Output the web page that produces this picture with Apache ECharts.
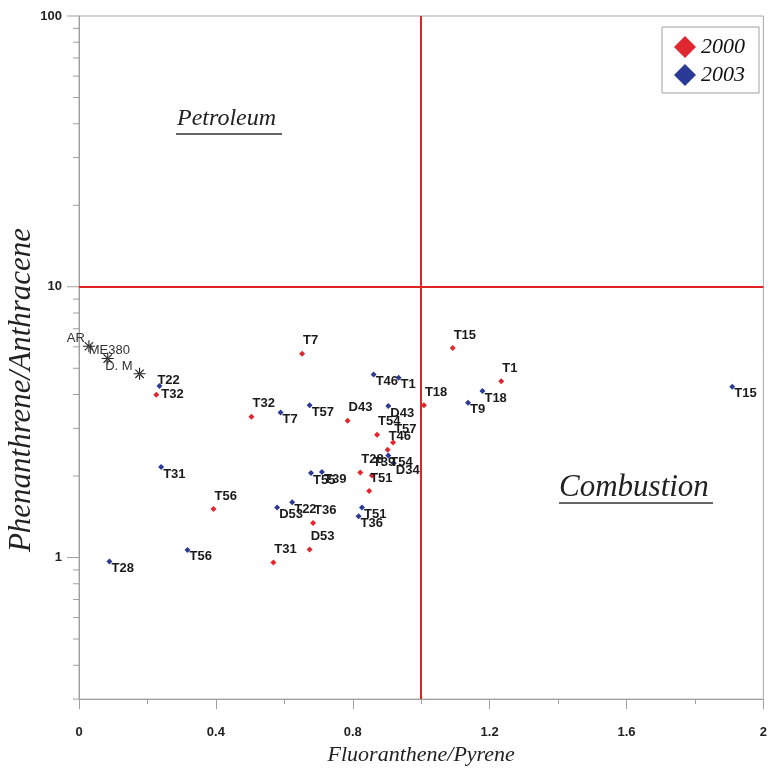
<!DOCTYPE html>
<html>
<head>
<meta charset="utf-8">
<script src="https://cdn.jsdelivr.net/npm/echarts@6/dist/echarts.min.js"></script>
<style>html,body{margin:0;padding:0;background:#fff;}#c{width:770px;height:771px;}</style>
</head>
<body>
<div id="c"></div>
<script>
// ---- data ----
const names2000 = ['T7','T32','T32','D43','T56','T36','D53','T31','T51','T28','T39','T46','T57','T54','T18','T15','T1'];
const x2000 = [0.652,0.226,0.504,0.785,0.393,0.684,0.674,0.568,0.848,0.822,0.856,0.902,0.918,0.871,1.008,1.092,1.234];
const y2000 = [5.66,3.99,3.31,3.20,1.51,1.34,1.07,0.959,1.76,2.06,2.01,2.50,2.66,2.84,3.65,5.94,4.48];

const names2003 = ['T22','T7','T57','T31','T55','T39','D53','T22','T56','T28','T51','T36','T46','T1','D43','T54','D34','T18','T9','T15'];
const x2003 = [0.235,0.589,0.674,0.240,0.678,0.710,0.579,0.623,0.317,0.089,0.827,0.817,0.861,0.934,0.904,0.904,0.920,1.179,1.137,1.909];
const y2003 = [4.30,3.43,3.65,2.16,2.05,2.07,1.53,1.60,1.067,0.967,1.53,1.42,4.74,4.61,3.63,2.38,2.23,4.12,3.73,4.27];

const refNames = ['AR','ME380','D. M'];
const refX = [0.029,0.084,0.177];
const refY = [6.03,5.43,4.77];

const seriesNames = ['2000','2003'];
const xTickLabels = ['0','0.4','0.8','1.2','1.6','2'];
const yTickLabels = ['1','10','100'];
const yMinorTickValues = [0.3,0.4,0.5,0.6,0.7,0.8,0.9,2,3,4,5,6,7,8,9,20,30,40,50,60,70,80,90];
const yMajorTickValues = [1,10,100];
const thresholdX = 1;
const thresholdY = 10;
const regionNames = ['Petroleum','Combustion'];
const xTitle = 'Fluoranthene/Pyrene';
const yTitle = 'Phenanthrene/Anthracene';

// ---- styles ----
const RED = '#e0262e';
const BLUE = '#2a3a96';
const LABEL_FONT = 'Liberation Sans, Arial, sans-serif';
const SERIF = 'Liberation Serif, Times New Roman, serif';

const chart = echarts.init(document.getElementById('c'), null, {renderer: 'canvas'});

function buildPoints(names, xs, ys, baseOffset, overrides) {
  return names.map((n, i) => {
    const d = {name: n, value: [xs[i], ys[i]]};
    const o = overrides[i];
    d.label = {offset: o ? o : baseOffset};
    return d;
  });
}

const pts2000 = buildPoints(names2000, x2000, y2000, [1, -13], {1: [5, 0]});
const pts2003 = buildPoints(names2003, x2003, y2003, [2, 7], {0: [-2, -6]});
const refAlign = ['right', 'left', 'right'];
const refOffsets = [[-4, -8], [-19, -8], [-7, -7]];
const ptsRef = refNames.map((n, i) => ({
  name: n, value: [refX[i], refY[i]],
  label: {align: refAlign[i], offset: refOffsets[i]}
}));

const pointLabel = {
  show: true,
  formatter: p => p.name,
  position: 'inside',
  align: 'left',
  verticalAlign: 'middle',
  fontFamily: LABEL_FONT,
  fontWeight: 'bold',
  fontSize: 13,
  color: '#1a1a1a'
};

const ticks = yMinorTickValues.map(v => [0, v, 0]).concat(yMajorTickValues.map(v => [0, v, 1]));

const starPath = 'path://M-6,-0.55L6,-0.55L6,0.55L-6,0.55Z M-0.55,-6L0.55,-6L0.55,6L-0.55,6Z M-4.6,-3.8L-3.8,-4.6L4.6,3.8L3.8,4.6Z M4.6,-3.8L3.8,-4.6L-4.6,3.8L-3.8,4.6Z';

const option = {
  animation: false,
  backgroundColor: '#fff',
  grid: {left: 79, right: 3, top: 16, bottom: 67, show: true, borderColor: '#a8a8a8', borderWidth: 1},
  legend: {
    data: seriesNames,
    orient: 'vertical',
    left: 662, top: 27,
    icon: 'diamond',
    itemWidth: 22, itemHeight: 22, itemGap: 6,
    padding: [9, 14, 7, 12],
    borderColor: '#a0a0a0', borderWidth: 1,
    backgroundColor: '#fff',
    itemStyle: {opacity: 1},
    textStyle: {fontFamily: SERIF, fontStyle: 'italic', fontSize: 22, color: '#111'}
  },
  xAxis: {
    type: 'value', min: 0, max: 2, interval: 0.4,
    name: xTitle, nameLocation: 'middle', nameGap: 40,
    nameTextStyle: {fontFamily: SERIF, fontStyle: 'italic', fontSize: 22, color: '#222'},
    axisLine: {show: true, onZero: false, lineStyle: {color: '#a0a0a0', width: 1}},
    axisTick: {show: true, inside: false, length: 10, lineStyle: {color: '#a0a0a0'}},
    minorTick: {show: true, splitNumber: 2, length: 5, lineStyle: {color: '#a0a0a0'}},
    splitLine: {show: false},
    axisLabel: {
      margin: 27, fontFamily: LABEL_FONT, fontWeight: 'bold', fontSize: 13, color: '#222',
      formatter: v => { const i = Math.round(v / 0.4); return Math.abs(v - i * 0.4) < 1e-6 ? xTickLabels[i] : ''; }
    }
  },
  yAxis: {
    type: 'log', logBase: 10, min: 0.3, max: 100,
    axisLine: {show: true, onZero: false, lineStyle: {color: '#a0a0a0', width: 1}},
    axisTick: {show: false},
    splitLine: {show: false},
    axisLabel: {
      margin: 17, fontFamily: LABEL_FONT, fontWeight: 'bold', fontSize: 13, color: '#222',
      formatter: v => {
        const l = Math.log10(v); const r = Math.round(l);
        if (Math.abs(l - r) > 1e-6 || r < 0) return '';
        return yTickLabels[r] || '';
      }
    }
  },
  graphic: [
    {type: 'text', x: 22, y: 390, rotation: Math.PI / 2,
      style: {text: yTitle, font: 'italic 31px ' + SERIF, fill: '#222', align: 'center', verticalAlign: 'middle'}},
    {type: 'text', left: 177, top: 107, style: {text: regionNames[0], font: 'italic 24px ' + SERIF, fill: '#222'}},
    {type: 'line', shape: {x1: 176, y1: 134, x2: 282, y2: 134}, style: {stroke: '#333', lineWidth: 1.5}},
    {type: 'text', left: 559, top: 472, style: {text: regionNames[1], font: 'italic 31px ' + SERIF, fill: '#222'}},
    {type: 'line', shape: {x1: 559, y1: 503, x2: 713, y2: 503}, style: {stroke: '#333', lineWidth: 1.5}}
  ],
  series: [
    {
      type: 'custom', name: 'yticks', silent: true, clip: false, z: 1,
      data: ticks,
      renderItem: (params, api) => {
        const p = api.coord([api.value(0), api.value(1)]);
        const len = api.value(2) ? 12 : 6;
        return {type: 'line', shape: {x1: p[0] - len, y1: p[1], x2: p[0], y2: p[1]}, style: {stroke: '#a0a0a0', lineWidth: 1}};
      }
    },
    {
      name: seriesNames[0], type: 'scatter', symbol: 'diamond', symbolSize: 6,
      itemStyle: {color: RED, opacity: 1}, z: 4,
      data: pts2000, label: pointLabel,
      markLine: {
        silent: true, symbol: 'none', animation: false,
        label: {show: false},
        lineStyle: {color: '#e02424', width: 2, type: 'solid', opacity: 1},
        data: [{xAxis: thresholdX}, {yAxis: thresholdY}]
      }
    },
    {
      name: seriesNames[1], type: 'scatter', symbol: 'diamond', symbolSize: 6,
      itemStyle: {color: BLUE, opacity: 1}, z: 4,
      data: pts2003, label: pointLabel
    },
    {
      name: 'ref', type: 'scatter', symbol: starPath, symbolSize: 12,
      itemStyle: {color: '#222', opacity: 1}, z: 4,
      data: ptsRef,
      label: {show: true, formatter: p => p.name, position: 'inside', verticalAlign: 'middle',
        fontFamily: LABEL_FONT, fontSize: 13, color: '#333'}
    }
  ]
};
chart.setOption(option);
</script>
</body>
</html>
